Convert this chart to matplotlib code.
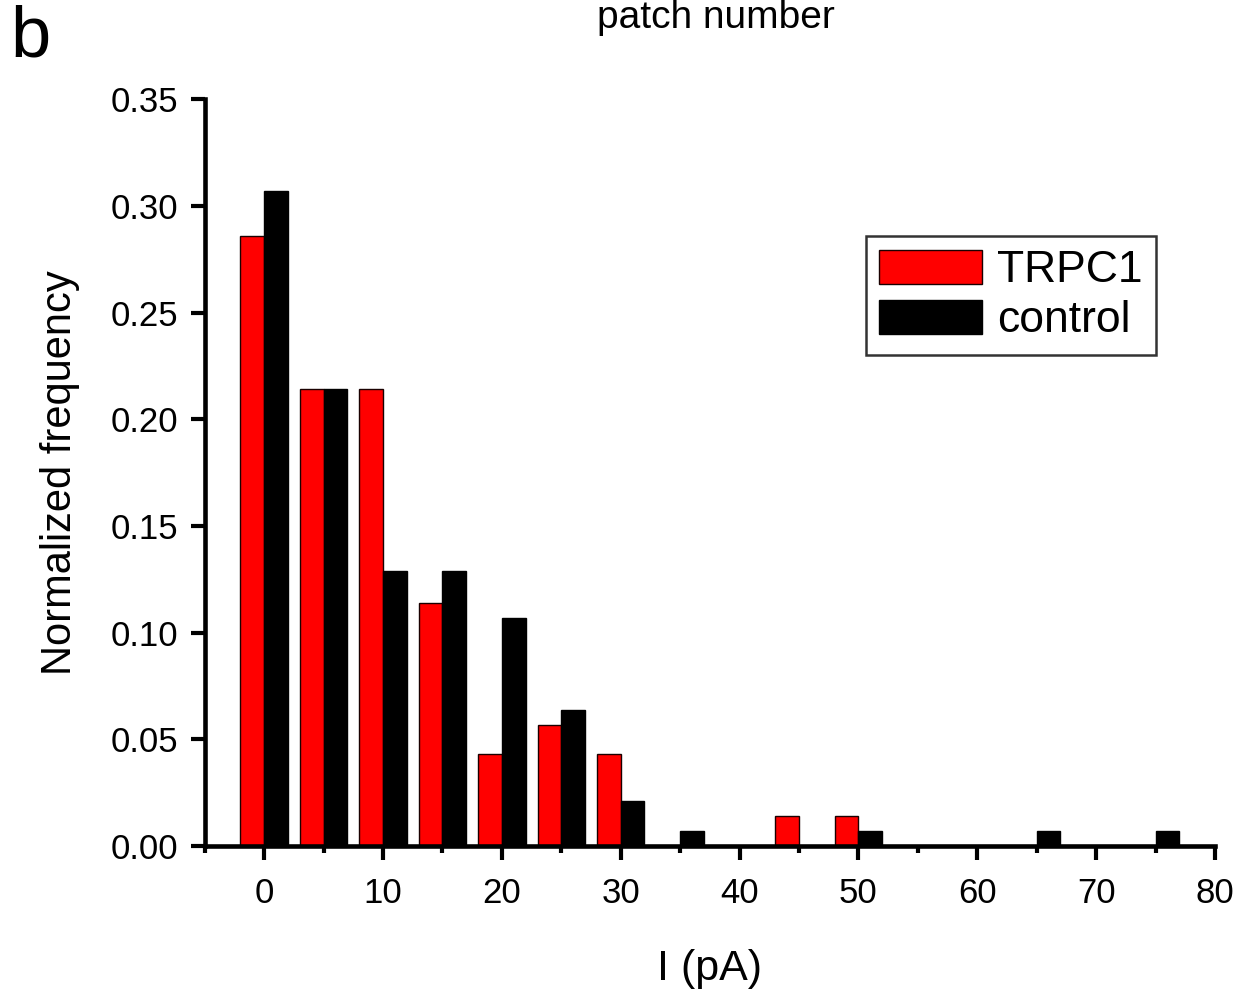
import matplotlib
matplotlib.use("Agg")
import matplotlib.pyplot as plt
import numpy as np
from matplotlib.ticker import MultipleLocator

plt.rcParams['font.family'] = ['Liberation Sans', 'DejaVu Sans']

# Histogram bin centres (pA) and normalized frequencies
bin_centers = [0, 5, 10, 15, 20, 25, 30, 35, 40, 45, 50, 55, 60, 65, 70, 75]
trpc1 = [0.286, 0.214, 0.214, 0.114, 0.043, 0.057, 0.043, 0, 0, 0.014, 0.014, 0, 0, 0, 0, 0]
control = [0.307, 0.214, 0.129, 0.129, 0.107, 0.064, 0.021, 0.007, 0, 0, 0.007, 0, 0, 0.007, 0, 0.007]
x_ticks = [0, 10, 20, 30, 40, 50, 60, 70, 80]
y_ticks = [0.00, 0.05, 0.10, 0.15, 0.20, 0.25, 0.30, 0.35]

fig = plt.figure(figsize=(12.41, 9.92), dpi=100)
ax = fig.add_axes([0.165, 0.147, 0.814, 0.753])

bw = 2.0
x = np.array(bin_centers, dtype=float)
ax.bar(x - bw / 2, trpc1, width=bw, color='#ff0000', edgecolor='#1a0000',
       linewidth=1.0, label='TRPC1')
ax.bar(x + bw / 2, control, width=bw, color='#000000', edgecolor='#000000',
       linewidth=1.0, label='control')

ax.set_xlim(-5, 80)
ax.set_ylim(0, 0.35)
ax.set_xticks(x_ticks)
ax.set_yticks(y_ticks)
ax.set_yticklabels([f"{v:.2f}" for v in y_ticks])
ax.xaxis.set_minor_locator(MultipleLocator(5))

for s in ['top', 'right']:
    ax.spines[s].set_visible(False)
for s in ['left', 'bottom']:
    ax.spines[s].set_linewidth(3.3)

ax.tick_params(axis='both', which='major', direction='out', length=10, width=3,
               labelsize=25)
ax.tick_params(axis='y', which='major', pad=9)
ax.tick_params(axis='x', which='major', pad=12)
ax.tick_params(axis='x', which='minor', direction='out', length=5, width=3)

ax.set_xlabel('I (pA)', fontsize=31, labelpad=28)
ax.set_ylabel('Normalized frequency', fontsize=30, labelpad=22)

fig.text(0.577, 0.982, 'patch number', fontsize=28, ha='center', va='center')
fig.text(0.008, 0.962, 'b', fontsize=52, ha='left', va='center')

leg = ax.legend(loc='upper right', bbox_to_anchor=(0.9416, 0.8166), fontsize=32,
                frameon=True, fancybox=False, edgecolor='black',
                handlelength=2.3, handleheight=0.8, handletextpad=0.35,
                borderpad=0.3, labelspacing=0.2, borderaxespad=0)
leg.get_frame().set_linewidth(1.8)

fig.savefig('out.png', dpi=100)
